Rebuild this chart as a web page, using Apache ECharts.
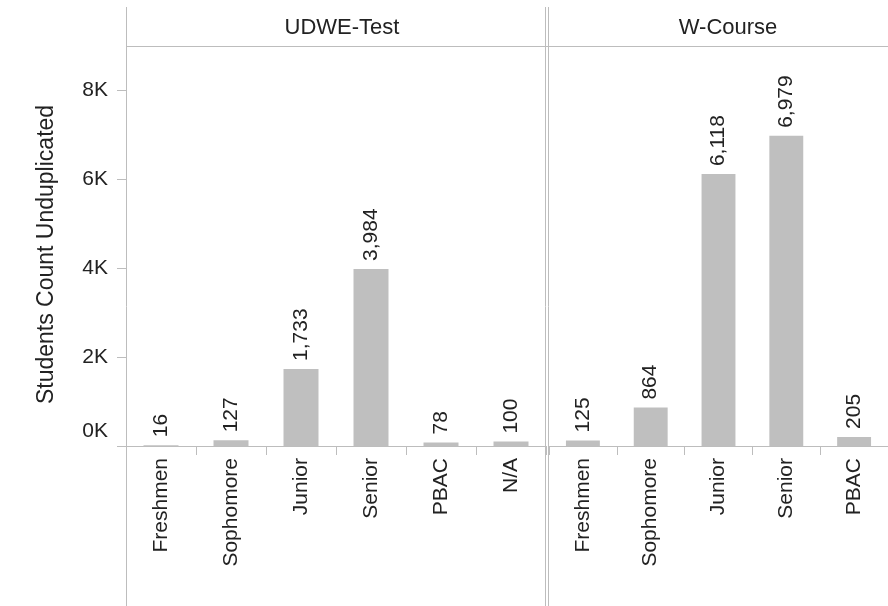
<!DOCTYPE html>
<html>
<head>
<meta charset="utf-8">
<style>
  html, body { margin: 0; padding: 0; background: #fff; }
  #chart { width: 888px; height: 606px; }
</style>
<script src="https://cdn.jsdelivr.net/npm/echarts@6/dist/echarts.min.js"></script>
</head>
<body>
<div id="chart"></div>
<script>
const panels = ['UDWE-Test', 'W-Course'];
const udweCategories = ['Freshmen', 'Sophomore', 'Junior', 'Senior', 'PBAC', 'N/A'];
const udweValues = [16, 127, 1733, 3984, 78, 100];
const wCategories = ['Freshmen', 'Sophomore', 'Junior', 'Senior', 'PBAC'];
const wValues = [125, 864, 6118, 6979, 205];
const yTicks = [0, 2000, 4000, 6000, 8000];

const font = '"Liberation Sans", Arial, sans-serif';
const lineColor = '#bdbdbd';
const textColor = '#222';

const chart = echarts.init(document.getElementById('chart'));

function xAxisFor(cats, gridIndex) {
  return {
    type: 'category',
    gridIndex,
    data: cats,
    axisLine: { show: true, lineStyle: { color: lineColor } },
    axisTick: { show: true, length: 9, lineStyle: { color: lineColor } },
    axisLabel: {
      rotate: 90,
      margin: 12,
      interval: 0,
      color: textColor,
      fontSize: 21,
      fontFamily: font
    }
  };
}

function yAxisFor(gridIndex, visible) {
  return {
    type: 'value',
    gridIndex,
    min: 0,
    max: 9000,
    splitLine: { show: false },
    axisLine: { show: false },
    axisTick: {
      show: visible,
      length: 9,
      customValues: yTicks,
      lineStyle: { color: lineColor }
    },
    axisLabel: {
      show: visible,
      customValues: yTicks,
      margin: 18,
      color: textColor,
      fontSize: 21,
      fontFamily: font,
      // the zero label sits above its tick, like the original
      formatter: v => v === 0 ? '{z|0K}' : (v / 1000) + 'K',
      rich: {
        z: { color: textColor, fontSize: 21, fontFamily: font, padding: [0, 0, 30, 0] }
      }
    },
    name: visible ? 'Students Count Unduplicated' : '',
    nameLocation: 'middle',
    nameRotate: 90,
    nameGap: 68,
    nameTextStyle: { color: textColor, fontSize: 23, fontFamily: font, padding: [0, 17, 0, 0] }
  };
}

function barSeries(values, idx) {
  return {
    type: 'bar',
    xAxisIndex: idx,
    yAxisIndex: idx,
    data: values,
    barWidth: '50%',
    itemStyle: { color: '#bfbfbf' },
    label: {
      show: true,
      position: 'top',
      rotate: 90,
      align: 'left',
      verticalAlign: 'middle',
      distance: 8,
      color: textColor,
      fontSize: 21,
      fontFamily: font,
      formatter: p => p.value.toLocaleString('en-US')
    },
    silent: true
  };
}

chart.setOption({
  animation: false,
  title: [
    { text: panels[0], left: 337, top: 12, textAlign: 'center',
      textStyle: { color: textColor, fontSize: 22, fontWeight: 'normal', fontFamily: font } },
    { text: panels[1], left: 723, top: 12, textAlign: 'center',
      textStyle: { color: textColor, fontSize: 22, fontWeight: 'normal', fontFamily: font } }
  ],
  grid: [
    { left: 126, top: 46, width: 420, height: 400, containLabel: false },
    { left: 549, top: 46, width: 350, height: 400, containLabel: false }
  ],
  xAxis: [xAxisFor(udweCategories, 0), xAxisFor(wCategories, 1)],
  yAxis: [yAxisFor(0, true), yAxisFor(1, false)],
  series: [barSeries(udweValues, 0), barSeries(wValues, 1)],
  graphic: [
    // panel frame lines
    { type: 'line', shape: { x1: 126.5, y1: 7, x2: 126.5, y2: 606 }, style: { stroke: lineColor, lineWidth: 1 } },
    { type: 'line', shape: { x1: 545.5, y1: 7, x2: 545.5, y2: 606 }, style: { stroke: lineColor, lineWidth: 1 } },
    { type: 'line', shape: { x1: 548.5, y1: 7, x2: 548.5, y2: 606 }, style: { stroke: lineColor, lineWidth: 1 } },
    { type: 'line', shape: { x1: 126, y1: 46.5, x2: 888, y2: 46.5 }, style: { stroke: lineColor, lineWidth: 1 } }
  ]
});
</script>
</body>
</html>
